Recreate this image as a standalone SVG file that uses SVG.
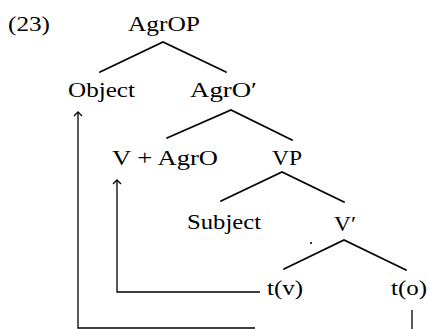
<svg xmlns="http://www.w3.org/2000/svg" width="429" height="329" viewBox="0 0 429 329">
<style>
text{font-family:"Liberation Serif","Times New Roman",serif;font-size:22px;fill:#000}
.br{stroke:#000;stroke-width:1.8;fill:none;stroke-linecap:round}
.mv{stroke:#000;stroke-width:1.3;fill:none}
</style>
<defs>
<marker id="caret" viewBox="-6 -6 8 12" markerWidth="8" markerHeight="12" refX="0" refY="0" orient="auto" markerUnits="userSpaceOnUse">
<path d="M-4,-4 L0,0 L-4,4" stroke="#000" stroke-width="1.3" fill="none"/>
</marker>
</defs>
<rect width="429" height="329" fill="#fff"/>
<text x="8" y="31" textLength="42" lengthAdjust="spacingAndGlyphs">(23)</text>
<g id="n-agrop"><text x="128" y="31" textLength="72" lengthAdjust="spacingAndGlyphs">AgrOP</text></g>
<g id="n-object"><text x="68" y="97" textLength="67" lengthAdjust="spacingAndGlyphs">Object</text></g>
<g id="n-agrobar"><text x="190" y="97" textLength="67" lengthAdjust="spacingAndGlyphs">AgrO′</text></g>
<g id="n-vagro"><text x="112" y="165" textLength="106" lengthAdjust="spacingAndGlyphs">V + AgrO</text></g>
<g id="n-vp"><text x="272" y="165" textLength="30" lengthAdjust="spacingAndGlyphs">VP</text></g>
<g id="n-subject"><text x="187" y="229" textLength="74" lengthAdjust="spacingAndGlyphs">Subject</text></g>
<g id="n-vbar"><text x="334" y="231" textLength="22" lengthAdjust="spacingAndGlyphs">V′</text><circle cx="311" cy="243" r="1" fill="#000"/></g>
<g id="n-tv"><text x="267" y="295" textLength="36" lengthAdjust="spacingAndGlyphs">t(v)</text></g>
<g id="n-to"><text x="391" y="295" textLength="36" lengthAdjust="spacingAndGlyphs">t(o)</text></g>
<g id="connectors">
<path class="br" d="M100,72 L163,42 L226,72"/>
<path class="br" d="M167,138 L231,110 L292,140"/>
<path class="br" d="M221,201 L282,172 L344,202"/>
<path class="br" d="M284,269 L344,240 L406,270"/>
<path class="mv" d="M260,292 H117 V180" marker-end="url(#caret)"/>
<path class="mv" d="M255,328 H78 V112" marker-end="url(#caret)"/>
<path class="mv" d="M412,310 V329"/>
</g>
</svg>
